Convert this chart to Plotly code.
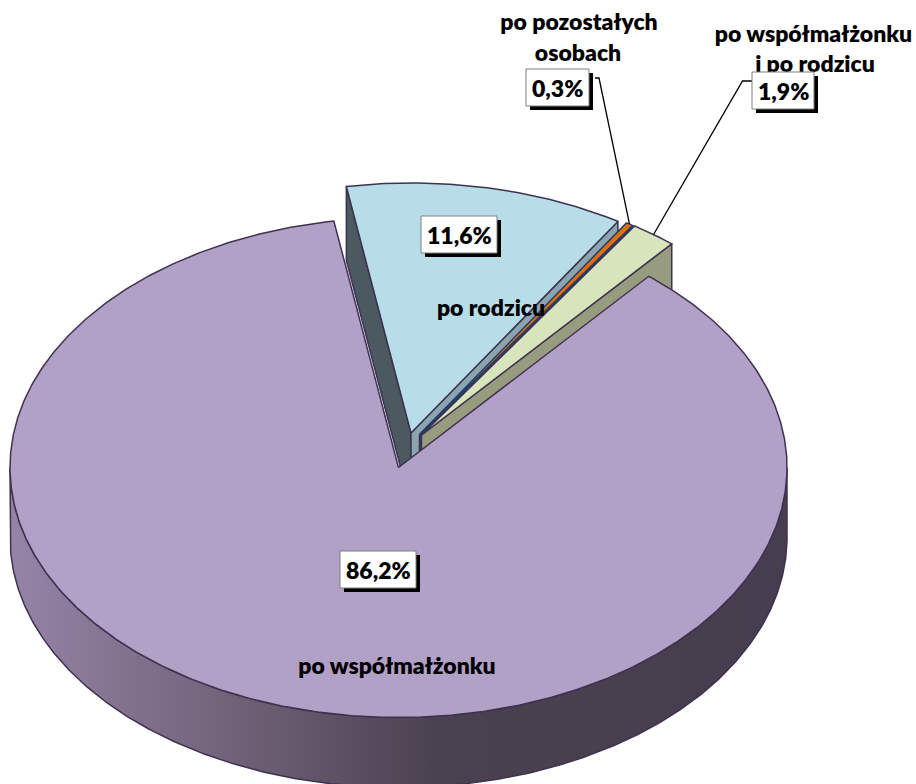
import numpy as np
import plotly.graph_objects as go

# data
categories = ["po współmałżonku", "po rodzicu", "po pozostałych osobach", "po współmałżonku i po rodzicu"]
shares = [86.2, 11.6, 0.3, 1.9]
share_labels = ["86,2%", "11,6%", "0,3%", "1,9%"]

# drawing set-up
W, H = 916, 784
CX, CY, RX, RY, DEPTH = 398.5, 467.5, 388.5, 250.0, 70.0
LEFT_WALL_DEPTH = 74.0
START_DEG = 40.1
FONT = "Lato, Carlito, 'Open Sans', sans-serif"
OUTLINE = "#3f3151"
TOP = ["#b2a1c7", "#b7dee8", "#e46c0a", "#d8e4bc"]
WALL_RIGHT = [None, "#8aa5ae", "#1f3f6e", "#979c7f"]
WALL_LEFT = "#4a5a60"
APEX_SHIFT = [(0, 0), (12.5, -34.5), (21, -33), (23, -32.5)]
LINE_W = 1.5
SIZE = 23


def pt(cx, cy, deg):
    r = np.radians(deg)
    return cx + RX * np.sin(r), cy - RY * np.cos(r)


def poly(fig, xs, ys, color, line=OUTLINE, lw=LINE_W):
    fig.add_trace(go.Scatter(x=list(xs), y=list(ys), mode="lines", fill="toself", fillcolor=color,
                             line=dict(color=line, width=lw), hoverinfo="skip", showlegend=False))


fig = go.Figure()

# slice angles from the shares
edges = [START_DEG]
for s in shares:
    edges.append(edges[-1] + s / sum(shares) * 360)
apex = [(CX + dx, CY + dy) for dx, dy in APEX_SHIFT]


def wall(fig, i, deg, color, depth=DEPTH, lw=LINE_W):
    ax, ay = apex[i]
    ex, ey = pt(ax, ay, deg)
    poly(fig, [ax, ex, ex, ax, ax], [ay, ey, ey + depth, ay + depth, ay], color, lw=lw)


def top(fig, i, color, line=OUTLINE, lw=LINE_W):
    ax, ay = apex[i]
    t = np.linspace(edges[i], edges[i + 1], max(3, int((edges[i + 1] - edges[i]) * 2)))
    x, y = pt(ax, ay, t)
    poly(fig, np.r_[ax, x, ax], np.r_[ay, y, ay], color, line=line, lw=lw)


# exploded slices, back to front
wall(fig, 1, edges[1], WALL_LEFT, depth=LEFT_WALL_DEPTH)
wall(fig, 1, edges[2], WALL_RIGHT[1])
top(fig, 1, TOP[1])
wall(fig, 2, edges[3], WALL_RIGHT[2])
top(fig, 2, TOP[2], line=WALL_RIGHT[2], lw=1.5)
wall(fig, 3, edges[4], WALL_RIGHT[3])
top(fig, 3, TOP[3])

# rim of the main slice with a left-to-right shading
t = np.linspace(90, 270, 361)
rx, ry = pt(CX, CY, t)
fig.add_trace(go.Scatter(
    x=np.r_[rx, rx[::-1], rx[0]], y=np.r_[ry, ry[::-1] + DEPTH, ry[0]],
    mode="lines", fill="toself", line=dict(color=OUTLINE, width=LINE_W), hoverinfo="skip", showlegend=False,
    fillgradient=dict(type="horizontal", start=10, stop=787,
                      colorscale=[[0, "#9584a6"], [0.28, "#726279"], [0.55, "#4a4150"], [1, "#463d4e"]])))
top(fig, 0, TOP[0])

# leader lines: box side -> elbow -> middle of the slice's outer edge
leaders = [(2, (595, 78), (599, 78)), (3, (752, 81), (742.5, 81))]
for i, a, b in leaders:
    ex, ey = pt(apex[i][0], apex[i][1], (edges[i] + edges[i + 1]) / 2)
    fig.add_trace(go.Scatter(x=[a[0], b[0], ex], y=[a[1], b[1], ey], mode="lines",
                             line=dict(color="#000000", width=1.3), hoverinfo="skip", showlegend=False))

# category labels (real text, under the value boxes)
label_lines = [
    (categories[0], 397, 668),
    (categories[1], 491, 310),
    ("po pozostałych", 579, 24),
    ("osobach", 578, 55),
    ("po współmałżonku", 813.5, 36),
    ("i po rodzicu", 815, 66),
]
fig.add_trace(go.Scatter(
    x=[p[1] for p in label_lines], y=[p[2] for p in label_lines], text=[p[0] for p in label_lines],
    mode="text", textposition="middle center",
    textfont=dict(family=FONT, size=SIZE, color="#000000", weight=800),
    hoverinfo="skip", showlegend=False))

# value boxes with hard shadow
boxes = [(340, 551, 416, 588), (421, 216, 497, 253), (526, 69, 589, 106), (752, 72, 814, 109)]
shapes, anns = [], []
for lab, (x0, y0, x1, y1) in zip(share_labels, boxes):
    shapes.append(dict(type="rect", x0=x0 + 4, y0=y0 + 4, x1=x1 + 4, y1=y1 + 4, fillcolor="#000000",
                       line=dict(width=0), layer="above"))
    shapes.append(dict(type="rect", x0=x0, y0=y0, x1=x1, y1=y1, fillcolor="#ffffff",
                       line=dict(color="#7f7f7f", width=1), layer="above"))
    anns.append(dict(x=(x0 + x1) / 2, y=(y0 + y1) / 2, text=lab, showarrow=False,
                     font=dict(family=FONT, size=SIZE, color="#000000", weight=800)))

fig.update_layout(
    width=W, height=H, margin=dict(l=0, r=0, t=0, b=0), paper_bgcolor="#ffffff", plot_bgcolor="#ffffff",
    showlegend=False, shapes=shapes, annotations=anns,
    xaxis=dict(range=[0, W], visible=False, fixedrange=True),
    yaxis=dict(range=[H, 0], visible=False, fixedrange=True),
)
fig.write_html("out.html", config={"displayModeBar": False},
               post_script="document.body.style.margin='0';document.documentElement.style.overflow='hidden';")
